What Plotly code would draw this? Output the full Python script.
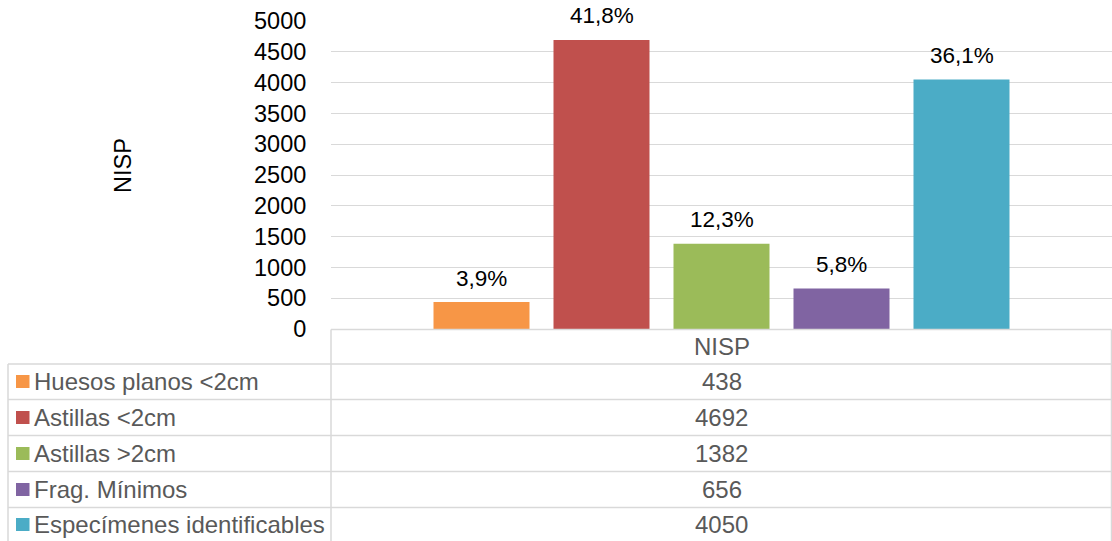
import plotly.graph_objects as go

categories = ["Huesos planos <2cm", "Astillas <2cm", "Astillas >2cm", "Frag. Mínimos", "Especímenes identificables"]
values = [438, 4692, 1382, 656, 4050]
pct_labels = ["3,9%", "41,8%", "12,3%", "5,8%", "36,1%"]
colors = ["#F79646", "#C0504D", "#9BBB59", "#8064A2", "#4BACC6"]
series_name = "NISP"
y_ticks = list(range(0, 5001, 500))

W, H = 1112, 541
L, R, T, B = 331, 0, 21, 212
PW = W - L - R
PH = H - T - B
Y0 = T + PH  # pixel of y=0


def xp(px):
    return (px - L) / PW


def yp(py):
    return (Y0 - py) / PH


GRID = "#d9d9d9"
TXT = "#595959"
FONT = "Liberation Sans, Arial, sans-serif"
FS = 23.5
FT = 24

fig = go.Figure()
fig.add_trace(go.Bar(
    x=categories, y=values, marker=dict(color=colors, line=dict(width=0)),
    showlegend=False, hoverinfo="x+y",
))

annotations = []
# percentage labels above bars
for c, v, t in zip(categories, values, pct_labels):
    annotations.append(dict(
        x=c, y=v, xref="x", yref="y", text=t, showarrow=False,
        yshift=24, yanchor="middle",
        font=dict(family=FONT, size=22.5, color="#000000"),
    ))

# y axis title
annotations.append(dict(
    x=xp(123), y=yp(166), xref="paper", yref="paper", text="NISP",
    textangle=-90, showarrow=False, xanchor="center", yanchor="middle",
    font=dict(family=FONT, size=FS, color="#000000"),
))

# data table
row_edges = [329.5, 364, 399.5, 435.5, 471.5, 507.5, 543]
x_left, x_mid, x_right = 8, 331, 1111.5
val_center = L + PW / 2

shapes = []
line_style = dict(color=GRID, width=1.5)
shapes.append(dict(type="line", xref="paper", yref="paper",
                   x0=xp(x_mid), x1=xp(x_right), y0=yp(row_edges[0]), y1=yp(row_edges[0]), line=line_style))
for ye in row_edges[1:-1]:
    shapes.append(dict(type="line", xref="paper", yref="paper",
                       x0=xp(x_left), x1=xp(x_right), y0=yp(ye), y1=yp(ye), line=line_style))
shapes.append(dict(type="line", xref="paper", yref="paper",
                   x0=xp(x_left), x1=xp(x_left), y0=yp(row_edges[1]), y1=yp(row_edges[-1]), line=line_style))
for xv in (x_mid, x_right):
    shapes.append(dict(type="line", xref="paper", yref="paper",
                       x0=xp(xv), x1=xp(xv), y0=yp(row_edges[0]), y1=yp(row_edges[-1]), line=line_style))

annotations.append(dict(
    x=xp(val_center), y=yp((row_edges[0] + row_edges[1]) / 2), xref="paper", yref="paper",
    text=series_name, showarrow=False, xanchor="center", yanchor="middle",
    font=dict(family=FONT, size=FT, color=TXT),
))
row_centers = [381.5, 417.5, 453.5, 489.5, 524.5]
for c, v, col, yc in zip(categories, values, colors, row_centers):
    shapes.append(dict(type="rect", xref="paper", yref="paper",
                       x0=xp(16), x1=xp(29.5), y0=yp(yc - 6.5), y1=yp(yc + 6.5),
                       fillcolor=col, line=dict(width=0)))
    annotations.append(dict(
        x=xp(31.5), y=yp(yc), xref="paper", yref="paper", text=c, showarrow=False,
        xanchor="left", yanchor="middle", font=dict(family=FONT, size=FT, color=TXT),
    ))
    annotations.append(dict(
        x=xp(val_center), y=yp(yc), xref="paper", yref="paper", text=str(v), showarrow=False,
        xanchor="center", yanchor="middle", font=dict(family=FONT, size=FT, color=TXT),
    ))

n = len(categories)
half = PW / 120 / 2
fig.update_layout(
    width=W, height=H,
    margin=dict(l=L, r=R, t=T, b=B, pad=0),
    paper_bgcolor="white", plot_bgcolor="white",
    bargap=0.2,
    font=dict(family=FONT, size=FS, color="#000000"),
    xaxis=dict(range=[(n - 1) / 2 - half, (n - 1) / 2 + half], showticklabels=False,
               showgrid=False, zeroline=False, showline=False, ticks=""),
    yaxis=dict(range=[0, 5000], tickvals=y_ticks, ticktext=[str(t) for t in y_ticks],
               showgrid=True, gridcolor=GRID, gridwidth=1.3, zeroline=False,
               showline=False, ticks="outside", ticklen=19, tickcolor="rgba(0,0,0,0)",
               tickfont=dict(family=FONT, size=FS, color="#000000")),
    annotations=annotations,
    shapes=shapes,
)

fig.write_html("out.html", config={"displayModeBar": False},
               post_script="document.body.style.margin='0';document.body.style.overflow='hidden';")
